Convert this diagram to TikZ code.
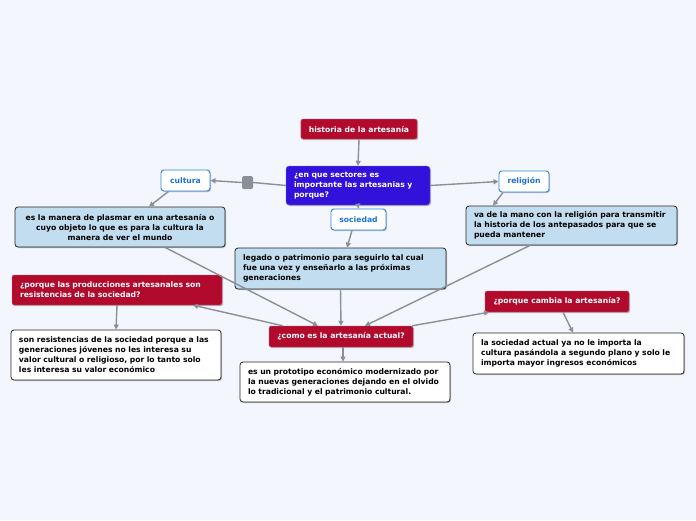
\documentclass[tikz,border=0pt]{standalone}
\usepackage{fontspec}
\setmainfont{DejaVu Sans Bold}
\usetikzlibrary{arrows.meta,shadows}
\definecolor{bgc}{HTML}{F3F6FD}
\definecolor{redc}{HTML}{B20A2C}
\definecolor{bluec}{HTML}{3211DA}
\definecolor{topicb}{HTML}{2B85E5}
\definecolor{topict}{HTML}{1E72D6}
\definecolor{descf}{HTML}{C3DDF0}
\definecolor{linec}{HTML}{8A9099}
\definecolor{darkb}{HTML}{262626}
\begin{document}
\begin{tikzpicture}[x=1pt,y=-1pt,
  every node/.style={font=\fontsize{7.65}{10}\selectfont, inner xsep=8pt, inner ysep=2pt},
  shad/.style={drop shadow={shadow xshift=1pt, shadow yshift=-1pt, opacity=0.25, fill=black}},
  redbox/.style={shad, fill=redc, draw=redc!60!white, line width=0.4pt, rounded corners=2pt, text=white, align=center},
  mainbox/.style={shad, fill=bluec, draw=bluec!60!white, line width=0.4pt, rounded corners=3pt, text=white, align=left},
  topicbox/.style={shad, fill=white, draw=topicb, line width=0.9pt, rounded corners=3pt, text=topict, align=center},
  descbox/.style={shad, fill=descf, draw=darkb, line width=0.8pt, rounded corners=3pt, text=black, align=left},
  ansbox/.style={shad, fill=white, draw=darkb, line width=0.8pt, rounded corners=3pt, text=black, align=left},
  conn/.style={draw=linec, line width=1.4pt, -{Triangle[width=5pt,length=5pt]}},
  plain/.style={draw=linec, line width=1.4pt}
]
\fill[bgc] (0,0) rectangle (696,520);
\useasboundingbox (0,0) rectangle (696,520);

\node[redbox, minimum width=116pt, minimum height=20pt] (hist) at (359,129) {historia de la artesanía};
\node[mainbox, minimum width=144pt, minimum height=39pt, text width=128pt] (main) at (358,185.5) {¿en que sectores es\\importante las artesanias y\\porque?};
\node[topicbox, minimum width=49pt, minimum height=21pt, inner xsep=4pt] (cult) at (185.5,180.5) {cultura};
\node[fill=linec, rounded corners=1.5pt, minimum width=11pt, minimum height=13pt, inner sep=0pt] (sq) at (247.5,182.5) {};
\node[topicbox, minimum width=50pt, minimum height=21pt, inner xsep=4pt] (rel) at (524,181.5) {religión};
\node[topicbox, minimum width=55pt, minimum height=21pt, inner xsep=4pt] (soc) at (358.5,219.5) {sociedad};

\node[descbox, align=center, minimum width=210pt, minimum height=40pt, text width=198pt, inner xsep=6pt] (culd) at (120,227) {es la manera de plasmar en una artesanía o\\cuyo objeto lo que es para la cultura la\\manera de ver el mundo};
\node[descbox, minimum width=211pt, minimum height=39pt, text width=195pt] (reld) at (571.5,225.5) {va de la mano con la religión para transmitir\\la historia de los antepasados para que se\\pueda mantener};
\node[descbox, minimum width=211pt, minimum height=41pt, text width=195pt] (socd) at (340.5,268.5) {legado o patrimonio para seguirlo tal cual\\fue una vez y enseñarlo a las próximas\\generaciones};

\node[redbox, align=left, minimum width=210pt, minimum height=30pt, text width=194pt] (q1) at (117,290) {¿porque las producciones artesanales son\\resistencias de la sociedad?};
\node[ansbox, minimum width=210pt, minimum height=50pt, text width=194pt] (a1) at (116,355) {son resistencias de la sociedad porque a las\\generaciones jóvenes no les interesa su\\valor cultural o religioso, por lo tanto solo\\les interesa su valor económico};
\node[redbox, minimum width=144pt, minimum height=21pt] (como) at (341,336.5) {¿como es la artesanía actual?};
\node[ansbox, minimum width=210pt, minimum height=40pt, text width=194pt] (a2) at (345,382) {es un prototipo económico modernizado por\\la nuevas generaciones dejando en el olvido\\lo tradicional y el patrimonio cultural.};
\node[redbox, minimum width=144pt, minimum height=21pt] (q2) at (557,301.5) {¿porque cambia la artesanía?};
\node[ansbox, minimum width=211pt, minimum height=41pt, text width=195pt] (a3) at (578.5,353.5) {la sociedad actual ya no le importa la\\cultura pasándola a segundo plano y solo le\\importa mayor ingresos económicos};

\draw[conn] (hist.south) -- (main.north);
\draw[plain] (main.west) -- (sq.east);
\draw[conn] (sq.west) -- (cult.east);
\draw[conn] (main.east) -- (rel.west);
\draw[conn] (main.south) -- (soc.north);
\draw[conn] ([xshift=-17pt]cult.south) -- ([xshift=29pt]culd.north);
\draw[conn] ([xshift=-21pt]rel.south) -- ([xshift=-78.5pt]reld.north);
\draw[conn] ([xshift=-6.5pt]soc.south) -- ([xshift=6.5pt]socd.north);
\draw[conn] ([xshift=45pt]culd.south) -- ([xshift=-23pt]como.north);
\draw[conn] (socd.south) -- (como.north);
\draw[conn] ([xshift=-41.5pt]reld.south) -- ([xshift=24pt]como.north);
\draw[conn] ([xshift=-58pt]como.north) -- ([xshift=76pt]q1.south);
\draw[conn] ([xshift=-1pt]como.north east) -- ([xshift=-68pt]q2.south);
\draw[conn] ([xshift=2pt]como.south) -- ([xshift=-2pt]a2.north);
\draw[conn] (q1.south) -- (a1.north);
\draw[conn] ([xshift=6pt]q2.south) -- ([xshift=-5.5pt]a3.north);
\end{tikzpicture}
\end{document}
